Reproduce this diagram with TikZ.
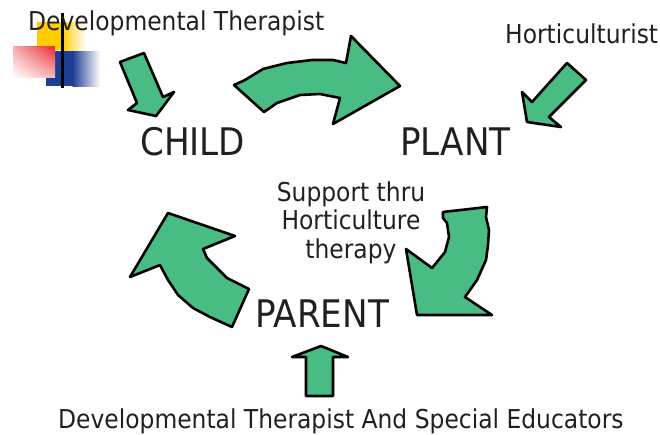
\documentclass[tikz,border=0pt]{standalone}
\usepackage{fontspec}
\usetikzlibrary{shadings}
\setmainfont{DejaVu Sans}[FakeStretch=0.9]
\definecolor{arrowgreen}{RGB}{72,188,131}
\definecolor{txt}{RGB}{35,31,32}
\definecolor{logoyellow}{RGB}{255,204,0}
\definecolor{logoblue}{RGB}{30,62,150}
\definecolor{logored}{RGB}{236,40,45}
\definecolor{pinkA}{RGB}{245,170,170}
\definecolor{pinkB}{RGB}{245,180,180}
\tikzset{
  bigarrow/.style={fill=arrowgreen, draw=black, line width=2.6pt, line join=round},
  smalltxt/.style={inner sep=0pt, anchor=base west, text=txt, font=\fontsize{26}{30}\selectfont},
  bigtxt/.style={inner sep=0pt, anchor=base west, text=txt, font=\fontsize{38}{44}\selectfont},
  centtxt/.style={inner sep=0pt, anchor=base, text=txt, font=\fontsize{26}{30}\selectfont}
}
\begin{document}
\begin{tikzpicture}[x=1pt,y=-1pt]
\useasboundingbox (0,0) rectangle (660,434);
% logo
\fill[logoyellow] (37,22) rectangle (62,50);
\shade[left color=logoyellow, right color=white] (61.5,22) rectangle (86,50);
\fill[logoblue] (46,51) rectangle (73,86);
\shade[left color=logoblue, right color=white] (72.5,51) rectangle (100,86);
\shade[upper right=logored, lower left=white, upper left=pinkA, lower right=pinkB] (13,46) rectangle (55,77);
\draw[black, line width=3pt] (62,13) -- (62,88);
% arrow near CHILD
\draw[bigarrow] (120,62) -- (144,53) -- (163,97) -- (174,92) -- (156,116) -- (128,110) -- (137,103) -- cycle;
% Horticulturist arrow
\draw[bigarrow] (567,63) -- (586,80) -- (549,117) -- (561,127) -- (527,122) -- (522,92) -- (532,102) -- cycle;
% CHILD -> PLANT curved arrow
\draw[bigarrow] (234,85) -- (245,80) -- (263,69) -- (287,63) -- (312,60) -- (333,60) -- (346,63) -- (351,36) -- (400,86) -- (333,124) -- (340,98) -- (320,94) -- (300,95) -- (277,103) -- (264,112) -- cycle;
% PLANT -> PARENT arrow
\draw[bigarrow] (443,212) -- (487,207) -- (486,217) -- (489,230) -- (488,245) -- (486,260) -- (477,280) -- (465,297) -- (492,315) -- (417,315) -- (406,249) -- (432,268) -- (445,252) -- (449,237) -- (447,223) -- (443,218) -- cycle;
% PARENT -> CHILD arrow
\draw[bigarrow] (168,213) -- (235,236) -- (203,249) -- (207,258) -- (227,278) -- (249,289) -- (232,327) -- (210,317) -- (193,308) -- (178,295) -- (168,280) -- (160,265) -- (130,277) -- cycle;
% bottom up arrow
\draw[bigarrow] (321,346) -- (348,357) -- (333,357) -- (333,396) -- (306,396) -- (306,357) -- (292,357) -- cycle;
% texts
\node[smalltxt] (devtop) at (28,30) {Developmental Therapist};
\node[smalltxt] (hort) at (505,43) {Horticulturist};
\node[bigtxt] (child) at (140,155) {CHILD};
\node[bigtxt] (plant) at (400,155) {PLANT};
\node[bigtxt] (parent) at (255,327) {PARENT};
\node[centtxt] (sup1) at (351,201) {Support thru};
\node[centtxt] (sup2) at (351,229) {Horticulture};
\node[centtxt] (sup3) at (351,258) {therapy};
\node[smalltxt] (devbot) at (58,428) {Developmental Therapist And Special Educators};
\end{tikzpicture}
\end{document}
